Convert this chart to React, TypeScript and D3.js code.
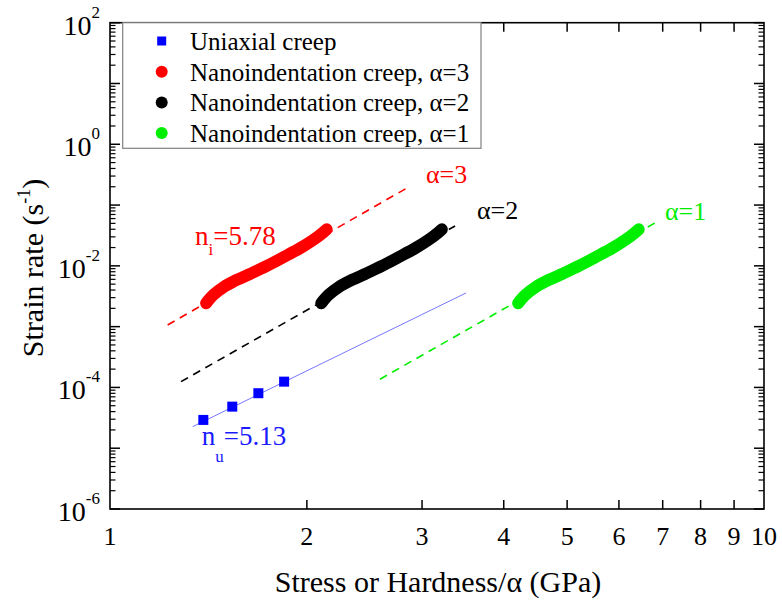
import React from "react";
import * as d3 from "d3";

// ---- Data ----
// Uniaxial creep: stress (GPa) and strain rate (1/s)
const UNI_STRESS = [1.389, 1.538, 1.686, 1.846];
const UNI_RATE = [2.92e-5, 4.83e-5, 8.03e-5, 1.245e-4];
// Uniaxial power-law fit (n_u = 5.13), end points
const UNI_FIT_X = [1.338, 3.503];
const UNI_FIT_Y = [2.265e-5, 3.58e-3];

// Nanoindentation creep: hardness (GPa) and strain rate (1/s)
const NANO_H = [4.208, 4.317, 4.472, 4.687, 4.911, 5.211, 5.522, 5.856, 6.137, 6.357, 6.433];
const NANO_RATE = [2.43e-3, 3.32e-3, 4.45e-3, 5.86e-3, 7.36e-3, 9.96e-3, 1.384e-2, 1.945e-2, 2.67e-2, 3.57e-2, 4.0e-2];

// constraint factors and series
const ALPHAS = [3, 2, 1];
const NANO_COLORS = ["#ff0000", "#000000", "#00ee00"];
const LEGEND_LABELS = [
  "Uniaxial creep",
  "Nanoindentation creep, \u03b1=3",
  "Nanoindentation creep, \u03b1=2",
  "Nanoindentation creep, \u03b1=1",
];

// Dashed fit lines (stress or H/alpha, strain rate) for alpha = 3, 2, 1
const FIT_X = [
  [1.225, 2.845],
  [1.284, 3.37],
  [2.587, 6.813],
];
const FIT_Y = [
  [1.066e-3, 0.191],
  [1.245e-4, 4.53e-2],
  [1.365e-4, 5.08e-2],
];

const X_TICKS = [1, 2, 3, 4, 5, 6, 7, 8, 9, 10];
const Y_EXPONENTS = [-6, -5, -4, -3, -2, -1, 0, 1, 2];

const W = 782;
const H = 604;
const L = 110, R = 764, T = 22.7, B = 509;
const FONT = "'Liberation Serif', 'Times New Roman', serif";

export default function App() {
  const x = d3.scaleLog().domain([1, 10]).range([L, R]);
  const y = d3.scaleLog().domain([1e-6, 1e2]).range([B, T]);

  const line = d3
    .line<[number, number]>()
    .x((d) => x(d[0]))
    .y((d) => y(d[1]))
    .curve(d3.curveCatmullRom.alpha(0.5));
  const straight = d3
    .line<[number, number]>()
    .x((d) => x(d[0]))
    .y((d) => y(d[1]));

  // minor y ticks
  const yMinor: number[] = [];
  for (let e = -6; e < 2; e++) {
    for (let m = 2; m <= 9; m++) yMinor.push(m * Math.pow(10, e));
  }

  return (
    <svg
      width={W}
      height={H}
      style={{ position: "absolute", left: 0, top: 0, background: "#fff" }}
      fontFamily={FONT}
    >
      <rect x={0} y={0} width={W} height={H} fill="#fff" />

      {/* fit lines */}
      <path
        d={straight(UNI_FIT_X.map((v, i) => [v, UNI_FIT_Y[i]]) as [number, number][]) || ""}
        stroke="#7777ff"
        strokeWidth={1}
        fill="none"
      />
      {FIT_X.map((fx, k) => (
        <path
          key={"fit" + k}
          d={straight(fx.map((v, i) => [v, FIT_Y[k][i]]) as [number, number][]) || ""}
          stroke={NANO_COLORS[k]}
          strokeWidth={1.6}
          strokeDasharray="8,6"
          fill="none"
        />
      ))}

      {/* nanoindentation curves */}
      {ALPHAS.map((a, k) => (
        <path
          key={"nano" + k}
          d={line(NANO_H.map((h, i) => [h / a, NANO_RATE[i]]) as [number, number][]) || ""}
          stroke={NANO_COLORS[k]}
          strokeWidth={12}
          strokeLinecap="round"
          strokeLinejoin="round"
          fill="none"
        />
      ))}

      {/* uniaxial squares */}
      {UNI_STRESS.map((s, i) => (
        <rect
          key={"u" + i}
          x={x(s) - 5}
          y={y(UNI_RATE[i]) - 5}
          width={10}
          height={10}
          fill="#0000ff"
        />
      ))}

      {/* frame */}
      <rect x={L} y={T} width={R - L} height={B - T} fill="none" stroke="#000" strokeWidth={1.6} />

      {/* x ticks */}
      {X_TICKS.slice(1, -1).map((t) => (
        <g key={"xt" + t}>
          <line x1={x(t)} x2={x(t)} y1={B} y2={B - 9} stroke="#000" strokeWidth={1.5} />
          <line x1={x(t)} x2={x(t)} y1={T} y2={T + 9} stroke="#000" strokeWidth={1.5} />
        </g>
      ))}
      {X_TICKS.map((t) => (
        <text key={"xl" + t} x={x(t)} y={545} fontSize={26} textAnchor="middle" fill="#000">
          {t}
        </text>
      ))}

      {/* y ticks */}
      {Y_EXPONENTS.map((e) => {
        const yy = y(Math.pow(10, e));
        return (
          <g key={"yt" + e}>
            <line x1={L} x2={L + 10} y1={yy} y2={yy} stroke="#000" strokeWidth={1.5} />
            <line x1={R} x2={R - 10} y1={yy} y2={yy} stroke="#000" strokeWidth={1.5} />
          </g>
        );
      })}
      {yMinor.map((v, i) => (
        <g key={"ym" + i}>
          <line x1={L} x2={L + 5.5} y1={y(v)} y2={y(v)} stroke="#000" strokeWidth={1.2} />
          <line x1={R} x2={R - 5.5} y1={y(v)} y2={y(v)} stroke="#000" strokeWidth={1.2} />
        </g>
      ))}
      {Y_EXPONENTS.filter((e) => e % 2 === 0).map((e) => (
        <text key={"yl" + e} x={100} y={y(Math.pow(10, e)) + 12} fontSize={28} textAnchor="end" fill="#000">
          10
          <tspan dy={-17} fontSize={17}>
            {e}
          </tspan>
        </text>
      ))}

      {/* axis titles */}
      <text x={438} y={592} fontSize={30} textAnchor="middle" fill="#000">
        Stress or Hardness/{"\u03b1"} (GPa)
      </text>
      <text transform="translate(43,268) rotate(-90)" fontSize={30} textAnchor="middle" fill="#000">
        Strain rate (s
        <tspan dy={-13} fontSize={18}>
          -1
        </tspan>
        <tspan dy={13} fontSize={30}>
          )
        </tspan>
      </text>

      {/* legend */}
      <rect x={122.7} y={T} width={358.3} height={125.6} fill="#fff" stroke="#808080" strokeWidth={1.2} />
      {LEGEND_LABELS.map((lab, i) => {
        const cy = 41 + i * 30.7;
        return (
          <g key={"lg" + i}>
            {i === 0 ? (
              <rect x={157.2} y={cy - 4.5} width={9} height={9} fill="#0000ff" />
            ) : (
              <circle cx={161.7} cy={cy} r={6} fill={NANO_COLORS[i - 1]} />
            )}
            <text x={190} y={cy + 9} fontSize={25} fill="#000">
              {lab}
            </text>
          </g>
        );
      })}

      {/* annotations */}
      <text x={195} y={245} fontSize={27} fill="#ff0000">
        n
        <tspan dy={10} fontSize={17}>
          i
        </tspan>
        <tspan dy={-10} fontSize={27}>
          =5.78
        </tspan>
      </text>
      <text x={201.7} y={445} fontSize={27} fill="#1a1aff">
        n
        <tspan dy={17} fontSize={17}>
          u
        </tspan>
        <tspan dy={-17} fontSize={27}>
          =5.13
        </tspan>
      </text>
      <text x={426} y={183} fontSize={26} fill="#ff0000">
        {"\u03b1=3"}
      </text>
      <text x={477} y={219} fontSize={26} fill="#000">
        {"\u03b1=2"}
      </text>
      <text x={665} y={220} fontSize={26} fill="#00ee00">
        {"\u03b1=1"}
      </text>
    </svg>
  );
}
